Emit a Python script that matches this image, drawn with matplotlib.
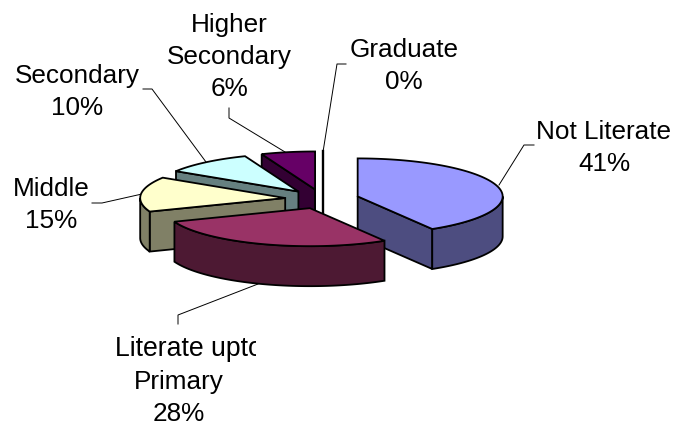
import numpy as np
import matplotlib
matplotlib.use("Agg")
import matplotlib.pyplot as plt
from matplotlib.patches import Polygon, Rectangle

plt.rcParams['font.family'] = ['Liberation Sans', 'DejaVu Sans']

# Data
labels = ["Not Literate", "Primary", "Middle", "Secondary", "Higher\nSecondary", "Graduate"]
shares = [41.4, 27.8, 14.8, 10, 6, 0]
top_colors = ["#9999FF", "#993366", "#FFFFCC", "#CCFFFF", "#660066", "#FF8080"]
side_colors = ["#4D4D80", "#4D1933", "#808066", "#668080", "#330033", "#804040"]

# Pie geometry, in pixels
cx, cy = 322, 199
rx, ry = 145, 38
depth = 40
explode = 37

fig = plt.figure(figsize=(6.76, 4.25), dpi=100)
ax = fig.add_axes([0, 0, 1, 1])
ax.set_xlim(0, 676)
ax.set_ylim(425, 0)
ax.axis('off')


def arc_points(x0, y0, a1, a2):
    t = np.radians(np.linspace(a1, a2, 80))
    return np.column_stack([x0 + rx * np.sin(t), y0 - ry * np.cos(t)])


def draw_wedge(share, start, top, side, z):
    end = start + share * 3.6
    mid = np.radians((start + end) / 2)
    x0 = cx + explode * np.sin(mid)
    y0 = cy - explode * ry / rx * np.cos(mid)
    drop = np.array([0, depth])
    apex = np.array([[x0, y0]])

    if share == 0:
        # Empty slice, only its edge shows
        ax.plot([x0 + 1, x0 + 1], [y0 - ry, y0 + depth], color='black', lw=1.7, zorder=z)
        return end

    # Faces along the cut, only those turned to the viewer
    if np.sin(np.radians(start)) < 0:
        edge = np.vstack([apex, arc_points(x0, y0, start, start)[:1]])
        ax.add_patch(Polygon(np.vstack([edge, edge[::-1] + drop]), fc=side, ec='black', lw=1.3, zorder=z))
    if np.sin(np.radians(end)) > 0:
        edge = np.vstack([apex, arc_points(x0, y0, end, end)[:1]])
        ax.add_patch(Polygon(np.vstack([edge, edge[::-1] + drop]), fc=side, ec='black', lw=1.3, zorder=z))

    # Rim, the part of the arc in front
    a1, a2 = max(start, 90), min(end, 270)
    if a2 > a1:
        rim = arc_points(x0, y0, a1, a2)
        ax.add_patch(Polygon(np.vstack([rim, rim[::-1] + drop]), fc=side, ec='black', lw=1.3, zorder=z))

    top_pts = np.vstack([apex, arc_points(x0, y0, start, end)])
    ax.add_patch(Polygon(top_pts, fc=top, ec='black', lw=1.3, zorder=z + 0.5))
    return end


starts = np.cumsum([0] + shares[:-1]) * 3.6
draw_order = [5, 4, 3, 2, 0, 1]
for z, i in enumerate(draw_order):
    draw_wedge(shares[i], starts[i], top_colors[i], side_colors[i], z + 2)

# Leader lines
leaders = [
    ([499, 524, 534], [185, 145, 145]),
    ([258, 178, 178], [284, 315, 324]),
    ([142, 102, 92], [194, 203, 203]),
    ([206, 152, 143], [162, 89, 89]),
    ([285, 229, 229], [152, 118, 108]),
    ([323, 337, 346], [152, 64, 64]),
]
for xs, ys in leaders:
    ax.plot(xs, ys, color='black', lw=0.7, zorder=1)

# Label text
label_pos = [(604, 148), (179, 398), (51, 205), (77, 92), (229, 57), (404, 66)]
for i, (lab, (x, y)) in enumerate(zip(labels, label_pos)):
    ax.text(x, y, f"{lab}\n{round(shares[i])}%", ha='center', va='center', fontsize=18.8,
            linespacing=1.4, color='black', zorder=20)

# First line of this label is cut off by its box in the original
clip = Rectangle((0, 0), 256, 425, transform=ax.transData)
t = ax.text(115, 349, "Literate upto", ha='left', va='center', fontsize=19.2, color='black', zorder=20)
t.set_clip_on(True)
t.set_clip_path(clip)

fig.savefig("out.png", dpi=100)
